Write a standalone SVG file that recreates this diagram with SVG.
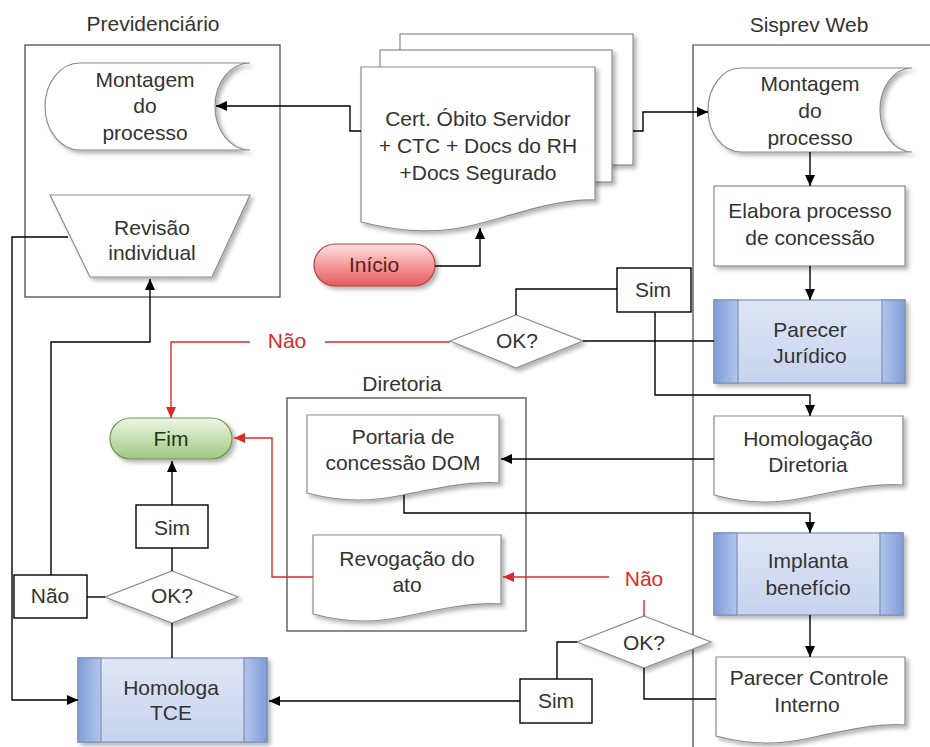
<svg xmlns="http://www.w3.org/2000/svg" width="930" height="747" viewBox="0 0 930 747">
  <defs>
    <style>
      text { font-family: "Liberation Sans", Arial, sans-serif; font-size: 21px; fill: #333; text-anchor: middle; }
      .lane { fill: none; stroke: #404040; stroke-width: 1.2; }
      .shape { fill: #ffffff; stroke: #8c8c8c; stroke-width: 1.2; filter: url(#shadow); }
      .label { fill: #ffffff; stroke: #000; stroke-width: 1.4; }
      .conn { fill: none; stroke: #000; stroke-width: 1.4; }
      .conn.arrow { marker-end: url(#arrow); }
      .red { fill: none; stroke: #e02a2a; stroke-width: 1.4; }
      .red.arrow { marker-end: url(#arrowRed); }
      .redtext { fill: #e02a2a; }
      .pp-body { fill: url(#ppBody); stroke: #7d8fb8; stroke-width: 1.2; filter: url(#shadow); }
      .pp-band { fill: url(#ppBand); stroke: #7d8fb8; stroke-width: 1.2; }
      .pp-bandR { fill: url(#ppBandR); stroke: #7d8fb8; stroke-width: 1.2; }
    </style>
    <filter id="shadow" x="-10%" y="-10%" width="130%" height="135%">
      <feDropShadow dx="3" dy="3" stdDeviation="2" flood-color="#000" flood-opacity="0.3"/>
    </filter>
    <marker id="arrow" markerUnits="userSpaceOnUse" markerWidth="11" markerHeight="10" refX="11" refY="5" orient="auto">
      <path d="M0,0 L11,5 L0,10 z" fill="#000"/>
    </marker>
    <marker id="arrowRed" markerUnits="userSpaceOnUse" markerWidth="11" markerHeight="10" refX="11" refY="5" orient="auto">
      <path d="M0,0 L11,5 L0,10 z" fill="#e02a2a"/>
    </marker>
    <linearGradient id="ppBody" x1="0" y1="0" x2="0" y2="1">
      <stop offset="0" stop-color="#dfe6f6"/>
      <stop offset="1" stop-color="#c7d3ee"/>
    </linearGradient>
    <linearGradient id="ppBand" x1="0" y1="0" x2="1" y2="0">
      <stop offset="0" stop-color="#7f9dd8"/>
      <stop offset="1" stop-color="#b3c5ec"/>
    </linearGradient>
    <linearGradient id="ppBandR" x1="0" y1="0" x2="1" y2="0">
      <stop offset="0" stop-color="#b3c5ec"/>
      <stop offset="1" stop-color="#7f9dd8"/>
    </linearGradient>
    <linearGradient id="startFill" x1="0" y1="0" x2="0" y2="1">
      <stop offset="0" stop-color="#fde2e2"/>
      <stop offset="0.5" stop-color="#f69b9b"/>
      <stop offset="1" stop-color="#e25d5d"/>
    </linearGradient>
    <linearGradient id="endFill" x1="0" y1="0" x2="0" y2="1">
      <stop offset="0" stop-color="#eef5e6"/>
      <stop offset="0.5" stop-color="#c7e0b3"/>
      <stop offset="1" stop-color="#9fc682"/>
    </linearGradient>
  </defs>

  <rect width="930" height="747" fill="#ffffff"/>

  <!-- swimlane frames -->
  <g id="lanes">
    <rect class="lane" x="25" y="45" width="255" height="252"/>
    <text x="153" y="31">Previdenciário</text>
    <path class="lane" d="M930,45 H693 V747"/>
    <text x="809" y="32">Sisprev Web</text>
    <rect class="lane" x="287" y="398" width="239" height="233"/>
    <text x="402" y="391">Diretoria</text>
  </g>

  <!-- Previdenciário -->
  <g id="montagem-prev">
    <path class="shape" d="M80,63 H250 A35,43.5 0 0 0 250,150 H80 A35,43.5 0 0 1 80,63 Z"/>
    <text x="145" y="87">Montagem</text>
    <text x="145" y="113">do</text>
    <text x="145" y="140">processo</text>
  </g>
  <g id="revisao">
    <path class="shape" d="M50,195 H250 L212,277 H90 Z"/>
    <text x="152" y="235">Revisão</text>
    <text x="152" y="260">individual</text>
  </g>

  <!-- document stack -->
  <g id="documentos">
    <rect class="shape" x="400" y="34" width="233" height="131"/>
    <rect class="shape" x="380" y="50" width="232" height="132"/>
    <path class="shape" d="M361,67 V222 C408,234 443,233 478,224 S560,198 595,200 V67 Z"/>
    <text x="478" y="126">Cert. Óbito Servidor</text>
    <text x="478" y="153">+ CTC + Docs do RH</text>
    <text x="478" y="180">+Docs Segurado</text>
  </g>

  <g id="inicio">
    <rect x="314" y="244" width="121" height="42" rx="21" fill="url(#startFill)" stroke="#b04040" stroke-width="1.2" filter="url(#shadow)"/>
    <text x="374" y="272" style="fill:#5a1c1c">Início</text>
  </g>

  <!-- Sisprev Web -->
  <g id="montagem-sisprev">
    <path class="shape" d="M741,68 H912 A32,42 0 0 0 912,152 H741 A33,42 0 0 1 741,68 Z"/>
    <text x="810" y="91">Montagem</text>
    <text x="810" y="118">do</text>
    <text x="810" y="145">processo</text>
  </g>
  <g id="elabora">
    <rect class="shape" x="714" y="186" width="191" height="80"/>
    <text x="810" y="218">Elabora processo</text>
    <text x="810" y="245">de concessão</text>
  </g>
  <g id="parecer-juridico">
    <rect class="pp-body" x="714" y="300" width="191" height="83"/>
    <rect class="pp-band" x="714" y="300" width="24" height="83"/>
    <rect class="pp-bandR" x="882" y="300" width="23" height="83"/>
    <text x="810" y="337">Parecer</text>
    <text x="810" y="363">Jurídico</text>
  </g>
  <g id="homologacao-diretoria">
    <path class="shape" d="M714,416 V495 C752,505 780,503 808,497 S875,483 903,485 V416 Z"/>
    <text x="808" y="446">Homologação</text>
    <text x="808" y="472">Diretoria</text>
  </g>
  <g id="implanta">
    <rect class="pp-body" x="714" y="533" width="189" height="82"/>
    <rect class="pp-band" x="714" y="533" width="23" height="82"/>
    <rect class="pp-bandR" x="880" y="533" width="23" height="82"/>
    <text x="808" y="568">Implanta</text>
    <text x="808" y="595">benefício</text>
  </g>
  <g id="parecer-controle">
    <path class="shape" d="M716,657 V736 C754,746 782,744 810,738 S877,723 905,725 V657 Z"/>
    <text x="809" y="685">Parecer Controle</text>
    <text x="807" y="712">Interno</text>
  </g>

  <!-- Diretoria -->
  <g id="portaria">
    <path class="shape" d="M307,415 V493 C345,503 374,501 403,495 S470,481 499,483 V415 Z"/>
    <text x="403" y="444">Portaria de</text>
    <text x="403" y="470">concessão DOM</text>
  </g>
  <g id="revogacao">
    <path class="shape" d="M313,535 V614 C351,624 379,622 407,616 S473,602 501,604 V535 Z"/>
    <text x="407" y="566">Revogação do</text>
    <text x="407" y="592">ato</text>
  </g>

  <!-- decisions -->
  <g id="decisao-juridico">
    <path class="shape" d="M516,315 L583,341 L516,368 L450,341 Z"/>
    <text x="517" y="348">OK?</text>
  </g>
  <g id="decisao-tce">
    <path class="shape" d="M172,571 L238,597 L172,623 L105,597 Z"/>
    <text x="172" y="603">OK?</text>
  </g>
  <g id="decisao-controle">
    <path class="shape" d="M644,616 L711,642 L644,668 L577,642 Z"/>
    <text x="644" y="650">OK?</text>
  </g>

  <g id="fim">
    <rect x="110" y="418" width="122" height="41" rx="20.5" fill="url(#endFill)" stroke="#6f9355" stroke-width="1.2" filter="url(#shadow)"/>
    <text x="171" y="446" style="fill:#1f3a12">Fim</text>
  </g>

  <g id="homologa-tce">
    <rect class="pp-body" x="78" y="658" width="189" height="84"/>
    <rect class="pp-band" x="78" y="658" width="23" height="84"/>
    <rect class="pp-bandR" x="244" y="658" width="23" height="84"/>
    <text x="171" y="695">Homologa</text>
    <text x="171" y="720">TCE</text>
  </g>

  <!-- connectors -->
  <g id="connectors">
    <path class="conn arrow" d="M361,131 H350 V106 H216"/>
    <path class="conn arrow" d="M633,131 H643 V112 H708"/>
    <path class="conn arrow" d="M435,266 H480 V228"/>
    <path class="conn arrow" d="M810,152 V186"/>
    <path class="conn arrow" d="M810,266 V300"/>
    <path class="conn" d="M714,341 H583"/>
    <path class="conn" d="M516,315 V289 H617"/>
    <path class="conn arrow" d="M655,312 V395 H810 V416"/>
    <path class="red" d="M450,342 H325"/>
    <path class="red arrow" d="M250,342 H171 V418"/>
    <path class="conn arrow" d="M714,459 H501"/>
    <path class="conn arrow" d="M404,495 V513 H810 V533"/>
    <path class="conn arrow" d="M810,615 V657"/>
    <path class="conn" d="M716,699 H644 V668"/>
    <path class="red" d="M644,616 V600"/>
    <path class="red arrow" d="M609,577 H503"/>
    <path class="conn" d="M577,642 H557 V679"/>
    <path class="conn arrow" d="M520,701 H269"/>
    <path class="conn" d="M172,658 V623"/>
    <path class="conn" d="M172,571 V548"/>
    <path class="conn arrow" d="M172,505 V461"/>
    <path class="conn" d="M105,597 H87"/>
    <path class="conn arrow" d="M51,575 V342 H150 V279"/>
    <path class="conn arrow" d="M68,237 H12 V700 H78"/>
    <path class="red arrow" d="M313,577 H272 V438 H234"/>
  </g>

  <!-- branch labels -->
  <g id="label-sim-juridico">
    <rect class="label" x="617" y="268" width="74" height="44"/>
    <text x="653" y="297">Sim</text>
  </g>
  <g id="label-nao-juridico">
    <text class="redtext" x="287" y="348">Não</text>
  </g>
  <g id="label-sim-tce">
    <rect class="label" x="136" y="505" width="72" height="43"/>
    <text x="172" y="535">Sim</text>
  </g>
  <g id="label-nao-tce">
    <rect class="label" x="14" y="575" width="73" height="43"/>
    <text x="50" y="603">Não</text>
  </g>
  <g id="label-nao-controle">
    <text class="redtext" x="644" y="586">Não</text>
  </g>
  <g id="label-sim-controle">
    <rect class="label" x="520" y="679" width="72" height="44"/>
    <text x="556" y="708">Sim</text>
  </g>
</svg>
